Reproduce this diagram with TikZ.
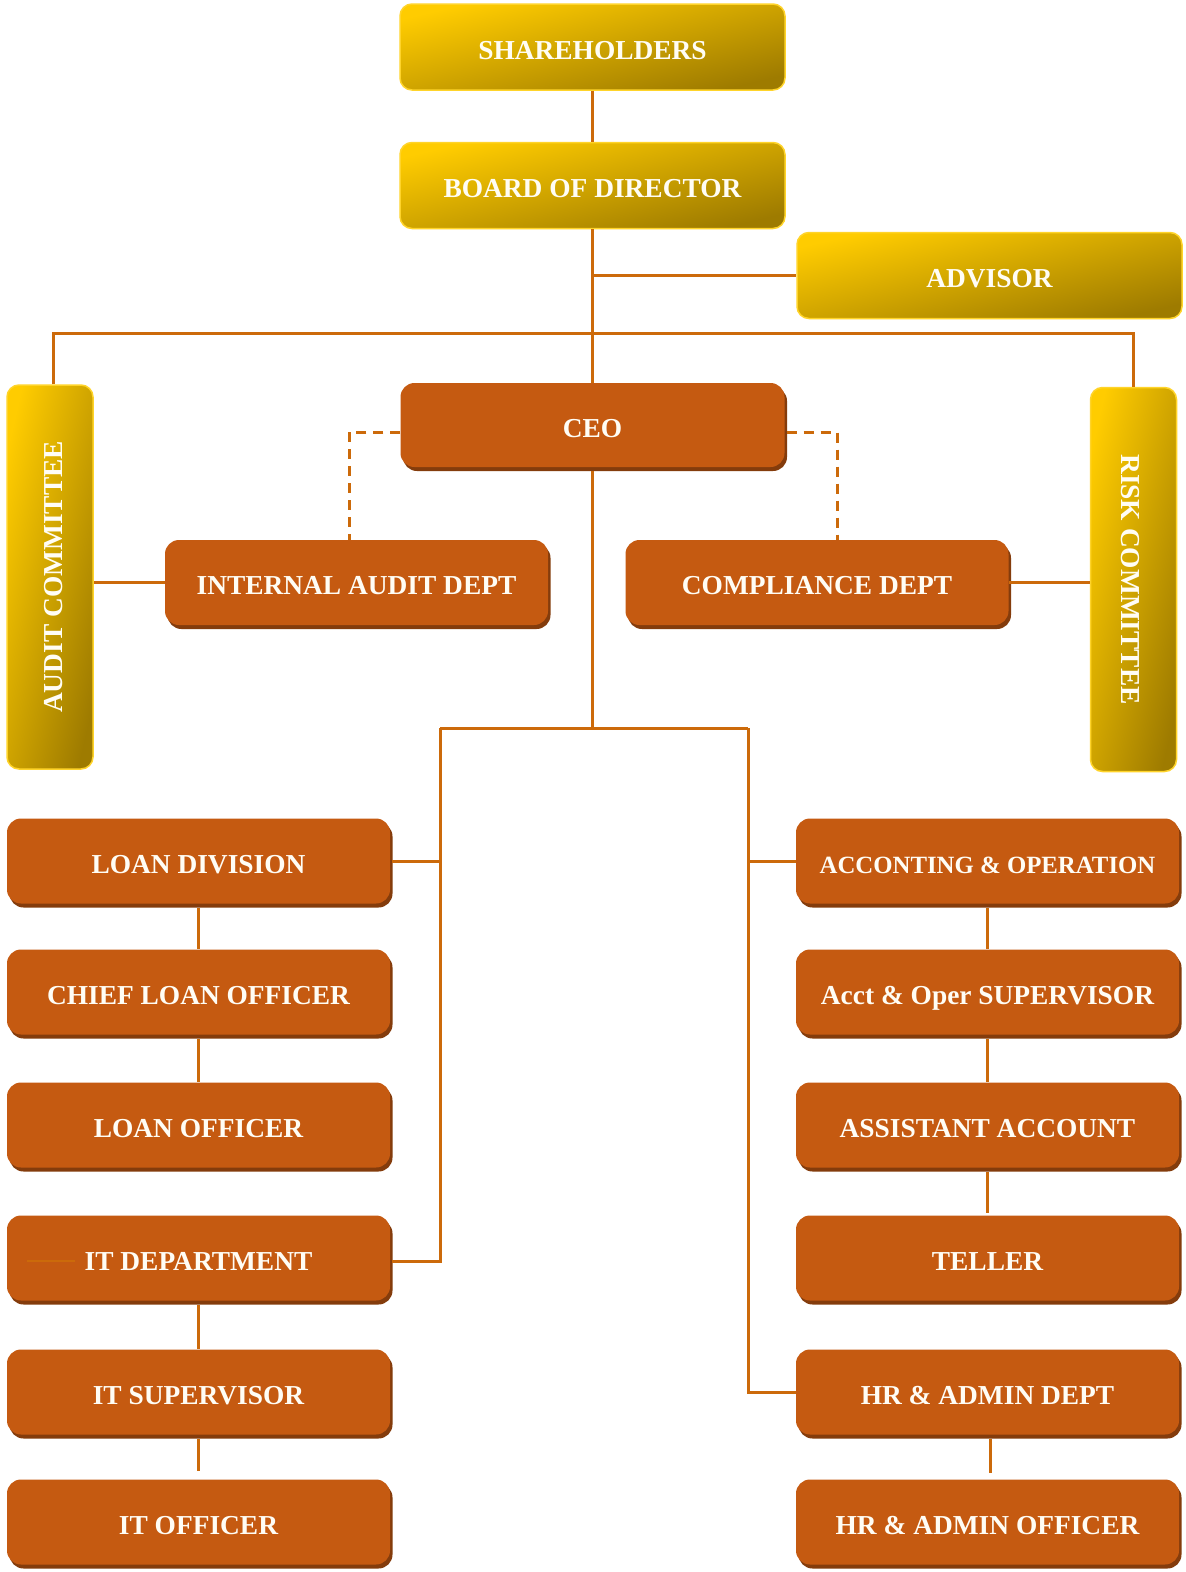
\documentclass[tikz,border=0pt]{standalone}
\usepackage{fontspec}
\setmainfont{Liberation Serif}
\usetikzlibrary{shadows,calc}
\definecolor{orangebox}{HTML}{C55A11}
\definecolor{orangeshadow}{HTML}{843C0C}
\definecolor{linec}{HTML}{CC6A0A}
\definecolor{goldA}{HTML}{FFCC00}
\definecolor{goldB}{HTML}{9E7B00}
\definecolor{goldedge}{HTML}{FFD42A}
\definecolor{txt}{HTML}{FFFDF5}
\newcommand{\captxt}[1]{\raisebox{0pt}[24pt][0pt]{#1}}
\begin{document}
\begin{tikzpicture}[x=1pt,y=-1pt,
  box/.style={rounded corners=12pt, font=\fontsize{27.4}{32}\selectfont\bfseries, text=txt, inner sep=0pt, align=center},
  gold/.style={box, draw=goldedge, line width=1.5pt, top color=goldA, bottom color=goldB},
  goldwide/.style={gold, shading angle=13, minimum width=385pt, minimum height=86pt, text height=24pt, text depth=0pt},
  goldtall/.style={gold, shading angle=77, minimum width=86pt, minimum height=384pt},
  org/.style={box, rounded corners=14pt, fill=orangebox, minimum width=383pt, minimum height=85pt,
    text height=24pt, text depth=0pt,
    drop shadow={shadow xshift=2.5pt, shadow yshift=-4pt, fill=orangeshadow, opacity=1}},
  conn/.style={draw=linec, line width=3pt},
  dconn/.style={conn, dash pattern=on 10pt off 7pt},
  ]
\fill[white] (0,0) rectangle (1186,1572);
\useasboundingbox (0,0) rectangle (1186,1572);

% top gold boxes
\node[goldwide] (SH)  at (592.5,47)   {SHAREHOLDERS};
\node[goldwide] (BD)  at (592.5,185.5) {BOARD OF DIRECTOR};
\node[goldwide] (ADV) at (989.5,275.5) {ADVISOR};
\node[goldtall] (AUD) at (50,577)     {\rotatebox{90}{\captxt{AUDIT COMMITTEE}}};
\node[goldtall] (RISK) at (1133.5,579.5) {\rotatebox{-90}{\captxt{RISK COMMITTEE}}};

% orange boxes
\node[org, minimum width=384pt, minimum height=84pt] (CEO) at (592.5,425) {CEO};
\node[org] (IA)  at (356.5,582.5) {INTERNAL AUDIT DEPT};
\node[org] (CMP) at (817,582.5)   {COMPLIANCE DEPT};

\node[org] (LD)  at (198.5,861)  {LOAN DIVISION};
\node[org] (CLO) at (198.5,992)  {CHIEF LOAN OFFICER};
\node[org] (LO)  at (198.5,1125) {LOAN OFFICER};
\node[org] (ITD) at (198.5,1258) {IT DEPARTMENT};
\node[org] (ITS) at (198.5,1392) {IT SUPERVISOR};
\node[org] (ITO) at (198.5,1522) {IT OFFICER};

\node[org, font=\fontsize{24.8}{30}\selectfont\bfseries] (ACC) at (987.5,861) {ACCONTING \& OPERATION};
\node[org] (AOS) at (987.5,992)  {Acct \& Oper SUPERVISOR};
\node[org] (AA)  at (987.5,1125) {ASSISTANT ACCOUNT};
\node[org] (TEL) at (987.5,1258) {TELLER};
\node[org] (HRD) at (987.5,1392) {HR \& ADMIN DEPT};
\node[org] (HRO) at (987.5,1522) {HR \& ADMIN OFFICER};

% stray mark inside IT department
\draw[draw=linec, line width=2.5pt] ($(ITD.west)+(20,3)$) -- ($(ITD.west)+(68,3)$);

% connectors top
\coordinate (bus) at (592.5,333);
\coordinate (J) at (592.5,728);
\coordinate (Lb) at (440,728);
\coordinate (Rb) at (748,728);

\draw[conn] (SH.south) -- (BD.north);
\draw[conn] (BD.south) -- (CEO.north);
\draw[conn] (BD.south |- ADV.west) -- (ADV.west);
\draw[conn] ($(AUD.north)+(3,0)$) |- (bus) -| (RISK.north);

\draw[dconn] ($(CEO.west)+(0,7)$) -| ($(IA.north)+(-7,0)$);
\draw[dconn] ($(CEO.east)+(2,7)$) -| ($(CMP.north)+(20,0)$);

\draw[conn] (IA.west) -- (IA.west -| AUD.east);
\draw[conn] (CMP.east) -- (CMP.east -| RISK.west);

\draw[conn] ($(CEO.south)+(0,4)$) -- (J);
\draw[conn] (Lb) -- (Rb);
\draw[conn] (Lb) |- ($(ITD.east)+(2,3)$);
\draw[conn] (Lb |- LD.east) -- ($(LD.east)+(2,0)$);
\draw[conn] (Rb) |- (HRD.west);
\draw[conn] (Rb |- ACC.west) -- (ACC.west);

% column connectors
\draw[conn] ($(LD.south)+(0,4)$) -- (CLO.north);
\draw[conn] ($(CLO.south)+(0,4)$) -- (LO.north);
\draw[conn] ($(ITD.south)+(0,4)$) -- (ITS.north);
\draw[conn] ($(ITS.south)+(0,4)$) -- ($(ITO.north)+(0,-8)$);

\draw[conn] ($(ACC.south)+(0,4)$) -- (AOS.north);
\draw[conn] ($(AOS.south)+(0,4)$) -- (AA.north);
\draw[conn] ($(AA.south)+(0,4)$) -- ($(TEL.north)+(0,-2)$);
\draw[conn] ($(HRD.south)+(3,4)$) -- ($(HRO.north)+(3,-6)$);
\end{tikzpicture}
\end{document}
